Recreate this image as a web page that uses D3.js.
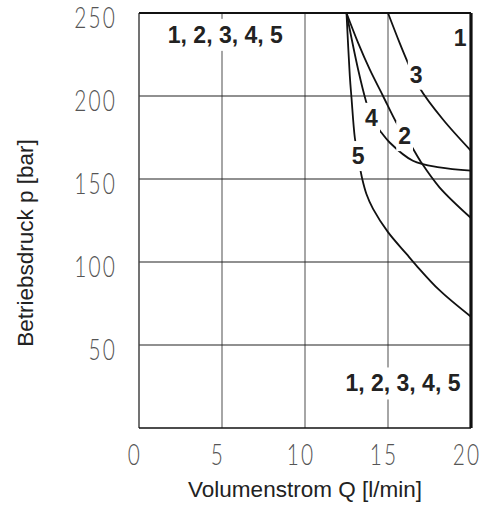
<!DOCTYPE html>
<html>
<head>
<meta charset="utf-8">
<script src="https://cdn.jsdelivr.net/npm/d3@7"></script>
<style>
  html, body { margin: 0; padding: 0; background: #fff; }
  svg { display: block; }
</style>
</head>
<body>
<svg id="chart" width="482" height="506"></svg>
<script>
// --- data (Q in l/min, p in bar) ---
const xTicks = [0, 5, 10, 15, 20];
const yTicks = [50, 100, 150, 200, 250];

const curve1 = [[20, 0], [20, 250]];
const curve2 = [[12.5, 250], [13.2, 232], [13.9, 216], [14.7, 200], [15.5, 184], [16.0, 176], [16.4, 170], [17.0, 160], [18.1, 145], [20, 126.5]];
const curve3 = [[15.0, 250], [15.7, 232], [16.2, 220], [16.9, 205], [18.3, 186], [20, 167]];
const curve4 = [[12.5, 250], [13.2, 216], [13.7, 196], [14.0, 187], [14.6, 178], [15.1, 172], [16.5, 161], [18.1, 157], [20, 155]];
const curve5 = [[12.5, 250], [12.7, 212], [12.8, 199], [13.0, 175], [13.2, 163], [13.45, 150], [13.7, 141], [14.1, 132], [15.0, 118], [16.1, 105], [16.7, 98], [18.1, 83], [20, 67]];

const curves = [curve1, curve2, curve3, curve4, curve5];

// curve labels: [text, Q, p]
const curveLabels = [
  ["1", 19.35, 235],
  ["2", 16.0, 176],
  ["3", 16.7, 213],
  ["4", 14.0, 187],
  ["5", 13.2, 164]
];
const groupLabels = [
  ["1, 2, 3, 4, 5", 5.2, 237],
  ["1, 2, 3, 4, 5", 15.9, 27]
];

const xTitle = "Volumenstrom Q [l/min]";
const yTitle = "Betriebsdruck p [bar]";

// --- layout ---
const svg = d3.select("#chart");
const x = d3.scaleLinear().domain([0, 20]).range([139, 471]);
const y = d3.scaleLinear().domain([0, 250]).range([428, 13]);

const grid = svg.append("g");

// vertical grid (grey)
grid.selectAll("line.vg")
  .data([5, 10, 15])
  .enter().append("line")
  .attr("x1", d => x(d)).attr("x2", d => x(d))
  .attr("y1", y(0)).attr("y2", y(250))
  .attr("stroke", "#888").attr("stroke-width", 1.5);

// horizontal grid (dark)
grid.selectAll("line.hg")
  .data([50, 100, 150, 200])
  .enter().append("line")
  .attr("x1", x(0)).attr("x2", x(20))
  .attr("y1", d => y(d)).attr("y2", d => y(d))
  .attr("stroke", "#222").attr("stroke-width", 1.1);

// frame
grid.append("line").attr("x1", x(0)).attr("x2", x(0)).attr("y1", y(0)).attr("y2", y(250))
  .attr("stroke", "#444").attr("stroke-width", 1.5);
grid.append("line").attr("x1", x(0)).attr("x2", x(20)).attr("y1", y(250)).attr("y2", y(250))
  .attr("stroke", "#111").attr("stroke-width", 2);
grid.append("line").attr("x1", x(0)).attr("x2", x(20)).attr("y1", y(0)).attr("y2", y(0))
  .attr("stroke", "#111").attr("stroke-width", 1.5);

// curves
const line = d3.line()
  .x(d => x(d[0]))
  .y(d => y(d[1]))
  .curve(d3.curveCatmullRom.alpha(0.5));

svg.append("g").selectAll("path")
  .data(curves)
  .enter().append("path")
  .attr("d", line)
  .attr("fill", "none")
  .attr("stroke", "#111")
  .attr("stroke-width", (d, i) => i === 0 ? 3.2 : 1.8);

// labels with white knock-out
function addLabel(g, text, q, p, padX, padY, knock) {
  const t = g.append("text")
    .attr("x", x(q)).attr("y", y(p))
    .attr("dy", "0.36em")
    .attr("text-anchor", "middle")
    .attr("font-family", "'Liberation Sans', Arial, sans-serif")
    .attr("font-weight", "bold")
    .attr("font-size", 23)
    .attr("fill", "#222")
    .text(text);
  if (!knock) return;
  const b = t.node().getBBox();
  g.insert("rect", "text")
    .attr("x", b.x - padX).attr("y", b.y - padY)
    .attr("width", b.width + 2 * padX).attr("height", b.height + 2 * padY)
    .attr("fill", "#fff");
}

const labelG = svg.append("g");
groupLabels.forEach(d => addLabel(labelG.append("g"), d[0], d[1], d[2], 4, 3, true));
curveLabels.forEach(d => addLabel(labelG.append("g"), d[0], d[1], d[2], 2, 2, d[0] !== "1"));

// tick labels (thin condensed digits)
const tickFont = "Lato, 'DejaVu Sans', sans-serif";
svg.append("g").selectAll("text")
  .data(xTicks)
  .enter().append("text")
  .attr("transform", d => `translate(${x(d) - 4},465) scale(0.72,1)`)
  .attr("text-anchor", "middle")
  .attr("font-family", tickFont).attr("font-weight", 300)
  .attr("font-size", 29).attr("letter-spacing", 3)
  .attr("fill", "#555")
  .text(d => d);

svg.append("g").selectAll("text")
  .data(yTicks)
  .enter().append("text")
  .attr("transform", d => `translate(117,${y(d) + 15}) scale(0.72,1)`)
  .attr("text-anchor", "end")
  .attr("font-family", tickFont).attr("font-weight", 300)
  .attr("font-size", 29).attr("letter-spacing", 3)
  .attr("fill", "#555")
  .text(d => d);

// axis titles
svg.append("text")
  .attr("x", 305).attr("y", 497)
  .attr("text-anchor", "middle")
  .attr("font-family", "'Liberation Sans', Arial, sans-serif")
  .attr("font-size", 22.5).attr("fill", "#222")
  .text(xTitle);

svg.append("text")
  .attr("transform", "translate(33,243) rotate(-90)")
  .attr("text-anchor", "middle")
  .attr("font-family", "'Liberation Sans', Arial, sans-serif")
  .attr("font-size", 22.5).attr("fill", "#222")
  .text(yTitle);
</script>
</body>
</html>
